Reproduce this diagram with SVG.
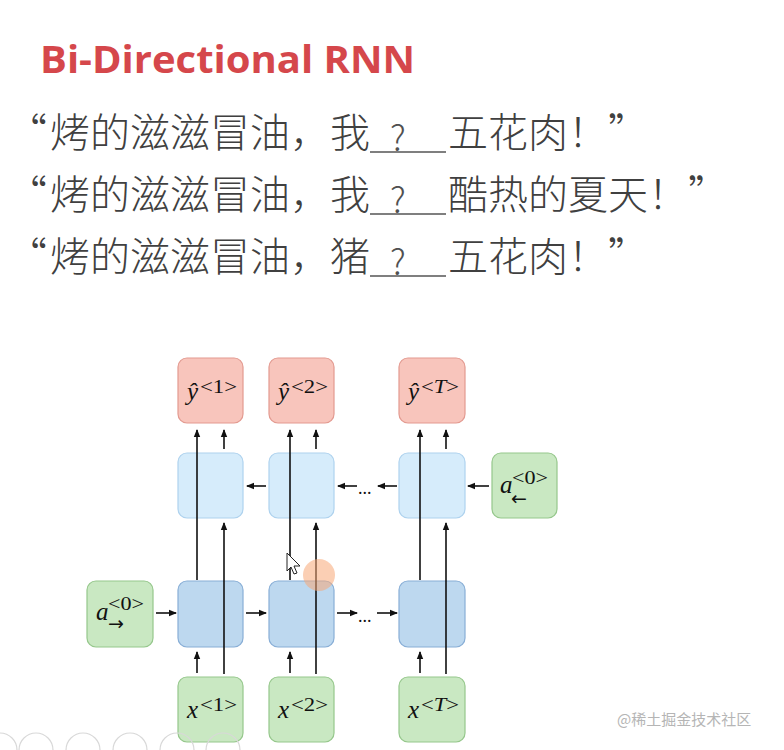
<svg xmlns="http://www.w3.org/2000/svg" width="784" height="750" viewBox="0 0 784 750">
<style>
.title{font-family:"Open Sans","Noto Sans",sans-serif;font-weight:bold;font-size:38px;fill:#d5474b}
.cn{font-family:"Noto Sans CJK SC","Noto Sans",sans-serif;font-weight:300;font-size:40px;fill:#404040}
.q{font-family:"Noto Sans CJK SC","Noto Sans",sans-serif;font-weight:300;font-size:35px;fill:#505050}
.box{stroke-width:1.2}
.yh{fill:#f8c5bc;stroke:#e39a90}
.bw{fill:#d6ecfb;stroke:#aed2ee}
.fw{fill:#bdd8ef;stroke:#88aed6}
.gr{fill:#c9e8c2;stroke:#95c78b}
.mi{font-family:"Liberation Serif","DejaVu Serif",serif;font-style:italic;font-size:25px;fill:#111}
.sup{font-family:"Liberation Serif","DejaVu Serif",serif;font-size:19px;fill:#111}
.arr{font-family:"DejaVu Sans",sans-serif;font-size:19px;fill:#111}
.dots{font-family:"Liberation Serif",serif;font-size:18px;fill:#111}
.ln{stroke:#111;stroke-width:1.6;fill:none}
.wm{font-family:"Noto Sans CJK SC",sans-serif;font-size:15px;fill:#b5b5b5}
.ui{fill:none;stroke:#d8d8d8;stroke-width:1.2}
</style>
<defs>
<marker id="ah" viewBox="0 0 8 8" refX="7" refY="4" markerWidth="8" markerHeight="8" markerUnits="userSpaceOnUse" orient="auto">
<path d="M0,0.8 L8,4 L0,7.2 Z" fill="#111"/>
</marker>
</defs>
<rect width="784" height="750" fill="#ffffff"/>

<g id="title"><text class="title" x="40" y="73" textLength="375" lengthAdjust="spacingAndGlyphs">Bi-Directional RNN</text></g>

<g id="sentences">
<text class="cn" x="47" y="147" text-anchor="end">“</text>
<text class="cn" x="50" y="147">烤的滋滋冒油，我</text>
<line x1="370" y1="152" x2="446" y2="152" stroke="#555" stroke-width="1.3"/>
<text class="q" x="398" y="151" text-anchor="middle">?</text>
<text class="cn" x="448" y="147">五花肉！”</text>

<text class="cn" x="47" y="209" text-anchor="end">“</text>
<text class="cn" x="50" y="209">烤的滋滋冒油，我</text>
<line x1="370" y1="214" x2="446" y2="214" stroke="#555" stroke-width="1.3"/>
<text class="q" x="398" y="213" text-anchor="middle">?</text>
<text class="cn" x="448" y="209">酷热的夏天！”</text>

<text class="cn" x="47" y="271" text-anchor="end">“</text>
<text class="cn" x="50" y="271">烤的滋滋冒油，猪</text>
<line x1="370" y1="276" x2="446" y2="276" stroke="#555" stroke-width="1.3"/>
<text class="q" x="398" y="275" text-anchor="middle">?</text>
<text class="cn" x="448" y="271">五花肉！”</text>
</g>

<g id="yhat1"><rect class="box yh" x="178" y="358" width="65" height="65" rx="9"/>
<text class="mi" x="187" y="400">ŷ</text><text class="sup" x="200" y="393" textLength="37" lengthAdjust="spacingAndGlyphs">&lt;1&gt;</text></g>
<g id="yhat2"><rect class="box yh" x="269" y="358" width="65" height="65" rx="9"/>
<text class="mi" x="278" y="400">ŷ</text><text class="sup" x="291" y="393" textLength="37" lengthAdjust="spacingAndGlyphs">&lt;2&gt;</text></g>
<g id="yhatT"><rect class="box yh" x="399" y="358" width="66" height="65" rx="9"/>
<text class="mi" x="408" y="400">ŷ</text><text class="sup" x="421" y="393" textLength="38" lengthAdjust="spacingAndGlyphs">&lt;<tspan font-style="italic">T</tspan>&gt;</text></g>

<g id="back1"><rect class="box bw" x="178" y="453" width="65" height="65" rx="9"/></g>
<g id="back2"><rect class="box bw" x="269" y="453" width="65" height="65" rx="9"/></g>
<g id="backT"><rect class="box bw" x="399" y="453" width="66" height="65" rx="9"/></g>
<g id="a0back"><rect class="box gr" x="492" y="453" width="65" height="65" rx="9"/>
<text class="mi" x="500" y="493">a</text><text class="sup" x="512" y="484" textLength="36" lengthAdjust="spacingAndGlyphs">&lt;0&gt;</text>
<text class="arr" x="511" y="505">←</text></g>

<g id="fwd1"><rect class="box fw" x="178" y="581" width="65" height="66" rx="9"/></g>
<g id="fwd2"><rect class="box fw" x="269" y="581" width="65" height="66" rx="9"/></g>
<g id="fwdT"><rect class="box fw" x="399" y="581" width="66" height="66" rx="9"/></g>
<g id="a0fwd"><rect class="box gr" x="87" y="581" width="66" height="66" rx="9"/>
<text class="mi" x="96" y="620">a</text><text class="sup" x="108" y="610" textLength="36" lengthAdjust="spacingAndGlyphs">&lt;0&gt;</text>
<text class="arr" x="108" y="630">→</text></g>

<g id="x1"><rect class="box gr" x="178" y="677" width="65" height="65" rx="9"/>
<text class="mi" x="187" y="718">x</text><text class="sup" x="200" y="711" textLength="37" lengthAdjust="spacingAndGlyphs">&lt;1&gt;</text></g>
<g id="x2"><rect class="box gr" x="269" y="677" width="65" height="65" rx="9"/>
<text class="mi" x="278" y="718">x</text><text class="sup" x="291" y="711" textLength="37" lengthAdjust="spacingAndGlyphs">&lt;2&gt;</text></g>
<g id="xT"><rect class="box gr" x="399" y="677" width="66" height="65" rx="9"/>
<text class="mi" x="408" y="718">x</text><text class="sup" x="421" y="711" textLength="38" lengthAdjust="spacingAndGlyphs">&lt;<tspan font-style="italic">T</tspan>&gt;</text></g>

<g id="connectors">
<line class="ln" x1="197" y1="580" x2="197" y2="430" marker-end="url(#ah)"/>
<line class="ln" x1="290" y1="580" x2="290" y2="430" marker-end="url(#ah)"/>
<line class="ln" x1="420" y1="580" x2="420" y2="430" marker-end="url(#ah)"/>
<line class="ln" x1="224" y1="449" x2="224" y2="430" marker-end="url(#ah)"/>
<line class="ln" x1="316" y1="449" x2="316" y2="430" marker-end="url(#ah)"/>
<line class="ln" x1="446" y1="449" x2="446" y2="430" marker-end="url(#ah)"/>
<line class="ln" x1="224" y1="674" x2="224" y2="523" marker-end="url(#ah)"/>
<line class="ln" x1="316" y1="674" x2="316" y2="523" marker-end="url(#ah)"/>
<line class="ln" x1="446" y1="674" x2="446" y2="523" marker-end="url(#ah)"/>
<line class="ln" x1="197" y1="673" x2="197" y2="652" marker-end="url(#ah)"/>
<line class="ln" x1="290" y1="673" x2="290" y2="652" marker-end="url(#ah)"/>
<line class="ln" x1="420" y1="673" x2="420" y2="652" marker-end="url(#ah)"/>
<line class="ln" x1="489" y1="486" x2="468" y2="486" marker-end="url(#ah)"/>
<line class="ln" x1="397" y1="486" x2="378" y2="486" marker-end="url(#ah)"/>
<text class="dots" x="358" y="494">...</text>
<line class="ln" x1="357" y1="486" x2="338" y2="486" marker-end="url(#ah)"/>
<line class="ln" x1="266" y1="486" x2="247" y2="486" marker-end="url(#ah)"/>
<line class="ln" x1="156" y1="613" x2="176" y2="613" marker-end="url(#ah)"/>
<line class="ln" x1="246" y1="613" x2="266" y2="613" marker-end="url(#ah)"/>
<line class="ln" x1="337" y1="613" x2="357" y2="613" marker-end="url(#ah)"/>
<text class="dots" x="358" y="622">...</text>
<line class="ln" x1="377" y1="613" x2="397" y2="613" marker-end="url(#ah)"/>
</g>

<g id="overlay">
<circle cx="319" cy="575" r="16" fill="#f7a877" fill-opacity="0.55"/>
<path d="M287,553 L287,571 L291,567 L294,574 L297,573 L294,566 L300,566 Z" fill="#fff" stroke="#222" stroke-width="1"/>
<circle class="ui" cx="0" cy="750" r="17"/>
<circle class="ui" cx="36" cy="750" r="17"/>
<circle class="ui" cx="83" cy="750" r="17"/>
<circle class="ui" cx="130" cy="750" r="17"/>
<circle class="ui" cx="177" cy="750" r="17"/>
<circle class="ui" cx="223" cy="750" r="17"/>
<text class="wm" x="617" y="725">@稀土掘金技术社区</text>
</g>
</svg>
